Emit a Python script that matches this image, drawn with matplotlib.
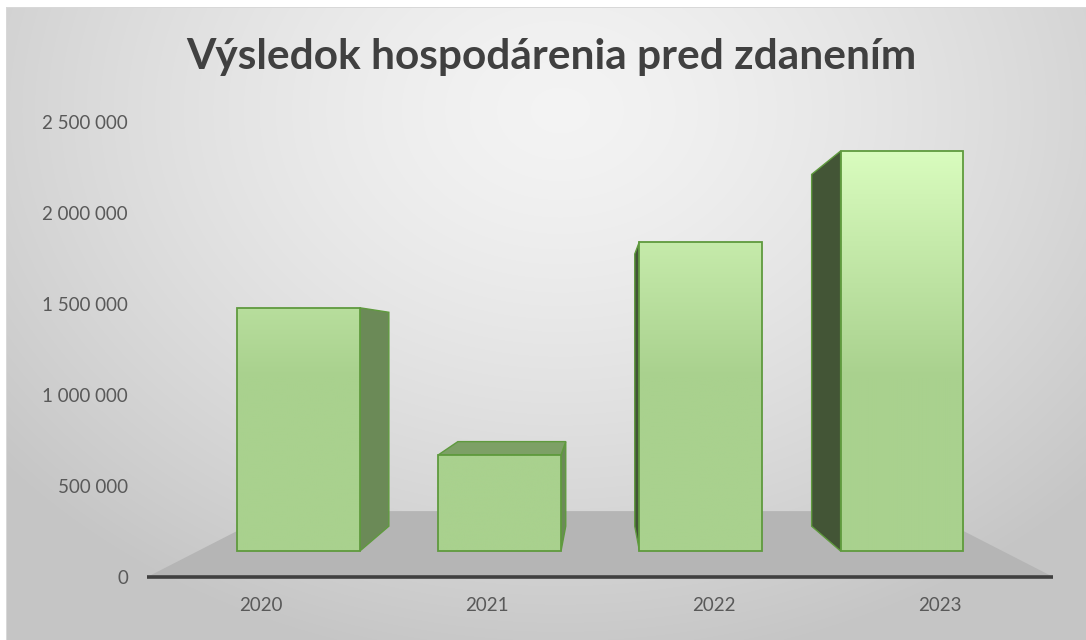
import numpy as np
import matplotlib.pyplot as plt
from matplotlib.patches import Polygon, Rectangle
from matplotlib.colors import to_rgb

# ---- data ----
years = ["2020", "2021", "2022", "2023"]
profit = [1505000, 595000, 1915000, 2475000]
y_ticks = [0, 500000, 1000000, 1500000, 2000000, 2500000]
title = "Výsledok hospodárenia pred zdanením"

plt.rcParams['font.family'] = ['Lato', 'DejaVu Sans']

W, H = 1086, 640
fig = plt.figure(figsize=(W / 100, H / 100), dpi=100)

# ---- background: radial grey gradient inside a thin frame ----
bg = fig.add_axes([0, 0, 1, 1])
bg.axis("off")
yy, xx = np.mgrid[0:H, 0:W]
r = np.clip(np.hypot((xx - 560) / 720, (yy - 110) / 560), 0, 1)
light, dark = np.array([0.955, 0.955, 0.955]), np.array([0.775, 0.775, 0.775])
img = light + (dark - light) * (r[..., None] ** 1.4)
img[:7, :] = 1.0
img[:, :6] = 1.0
img[7, 6:] = 0.85
img[7:, 6] = 0.85
bg.imshow(img, extent=(0, W, H, 0), interpolation="bilinear")
bg.set_xlim(0, W); bg.set_ylim(H, 0)

# ---- main axes, pixel layout ----
AX_L, AX_R, AX_T, AX_B = 140, 1075, 95, 592
X0_PX, DX_PX = 260.5, 226.5          # px of first category, px per category
Y0_PX, PX_PER_UNIT = 577, 182e-6      # px of value 0, px per value unit

ax = fig.add_axes([AX_L / W, 1 - AX_B / H, (AX_R - AX_L) / W, (AX_B - AX_T) / H])
ax.patch.set_visible(False)
for s in ax.spines.values():
    s.set_visible(False)

# perspective: points pulled towards a vanishing point by depth factor t
VP = np.array([1.5, (Y0_PX - 345) / PX_PER_UNIT])
T_FRONT, T_BACK, T_FLOOR = 0.112, 0.219, 0.284
BW = 0.61


def proj(x, y, t):
    p = np.array([x, y], dtype=float)
    return VP + (p - VP) * (1 - t)


# floor + axis line
floor = [proj(-0.5, 0, 0), proj(3.5, 0, 0), proj(3.5, 0, T_FLOOR), proj(-0.5, 0, T_FLOOR)]
ax.add_patch(Polygon(floor, fc="#b5b5b5", ec="none", zorder=1))
ax.plot([-0.5, 3.5], [0, 0], color="#404040", lw=2.6, solid_capstyle="butt", zorder=2)

EDGE = "#5f9a3e"
base_c, top_c = np.array(to_rgb("#a9d18e")), np.array(to_rgb("#d9fcbe"))

for i, v in enumerate(profit):
    x0, x1 = i - BW / 2, i + BW / 2
    # side faces
    if x1 < VP[0]:
        face = [proj(x1, 0, T_FRONT), proj(x1, 0, T_BACK), proj(x1, v, T_BACK), proj(x1, v, T_FRONT)]
        ax.add_patch(Polygon(face, fc="#6b8a57", ec=EDGE, lw=1, zorder=3))
    elif x0 > VP[0]:
        face = [proj(x0, 0, T_FRONT), proj(x0, 0, T_BACK), proj(x0, v, T_BACK), proj(x0, v, T_FRONT)]
        ax.add_patch(Polygon(face, fc="#435536", ec=EDGE, lw=1, zorder=3))
    if v < VP[1]:
        face = [proj(x0, v, T_FRONT), proj(x0, v, T_BACK), proj(x1, v, T_BACK), proj(x1, v, T_FRONT)]
        ax.add_patch(Polygon(face, fc="#7da066", ec=EDGE, lw=1, zorder=3))
    # front face with vertical gradient
    (fx0, fy0), (fx1, fy1) = proj(x0, 0, T_FRONT), proj(x1, v, T_FRONT)
    ys = np.linspace(fy1, fy0, 200)
    tt = np.clip((ys - 1.1e6) / 1.24e6, 0, 1)
    grad = base_c + (top_c - base_c) * tt[:, None]
    rect = Rectangle((fx0, fy0), fx1 - fx0, fy1 - fy0, fc="none", ec=EDGE, lw=1.3, zorder=5)
    im = ax.imshow(grad[:, None, :], extent=(fx0, fx1, fy0, fy1), aspect="auto",
                   interpolation="bilinear", zorder=4)
    ax.add_patch(rect)
    im.set_clip_path(rect)

ax.set_xlim((AX_L - X0_PX) / DX_PX, (AX_R - X0_PX) / DX_PX)
ax.set_ylim((Y0_PX - AX_B) / PX_PER_UNIT, (Y0_PX - AX_T) / PX_PER_UNIT)

ax.set_yticks(y_ticks, [f"{v:,}".replace(",", " ") for v in y_ticks])
ax.set_xticks(range(len(years)), years)
ax.tick_params(length=0, labelsize=13.5, labelcolor="#595959")
ax.tick_params(axis="y", pad=8.6)
ax.tick_params(axis="x", pad=3.6)

fig.text(551 / W, 1 - 57 / H, title, ha="center", va="center",
         fontsize=30.5, fontweight="bold", color="#404040")

fig.savefig("out.png", dpi=100)
